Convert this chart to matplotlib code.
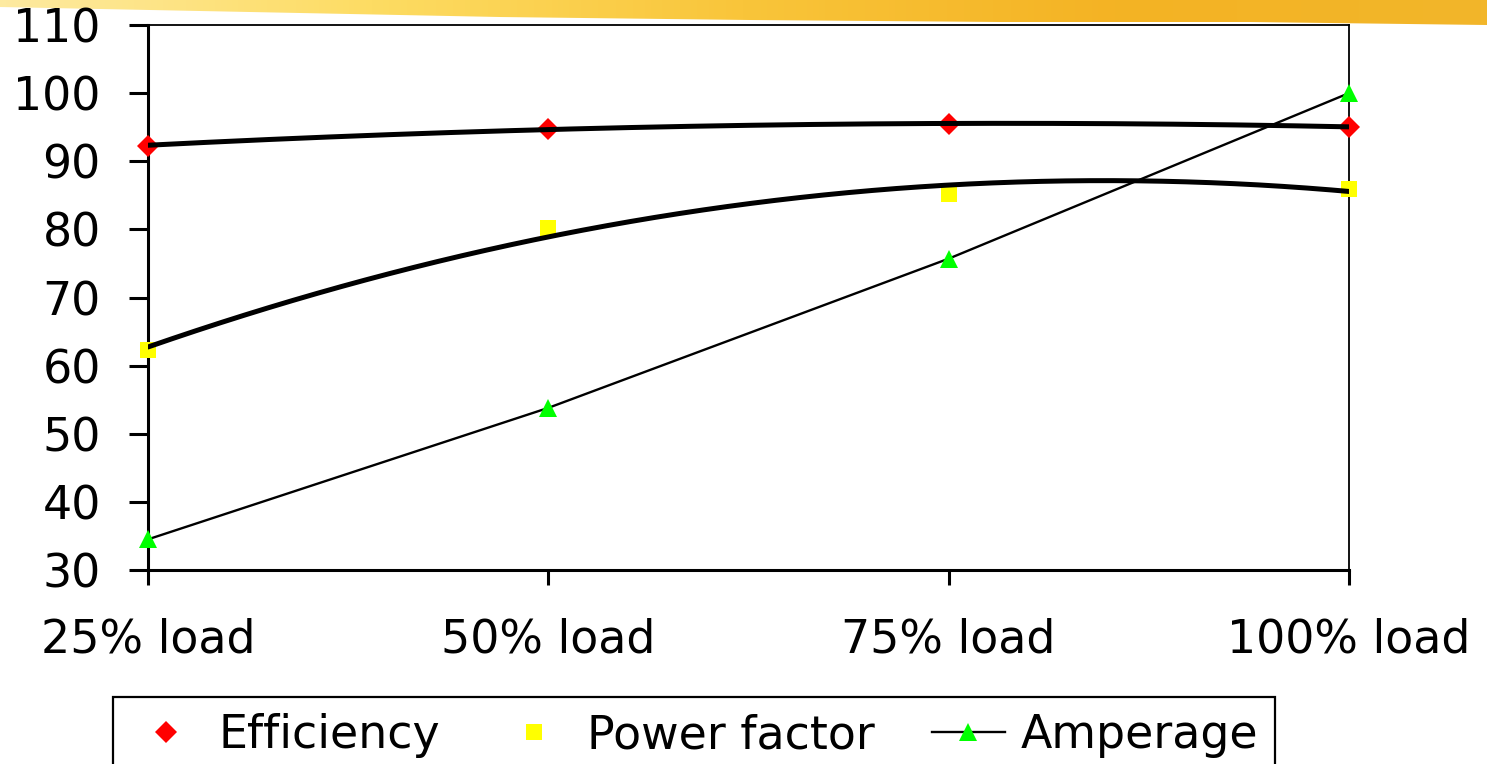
import numpy as np
import matplotlib.pyplot as plt
from matplotlib.patches import Polygon

# Motor performance at partial load
loads = ["25% load", "50% load", "75% load", "100% load"]
efficiency = [92.3, 94.8, 95.4, 95.1]
power_factor = [62.3, 80.2, 85.2, 86.0]
amperage = [34.5, 53.8, 75.7, 100.0]
yticks = [30, 40, 50, 60, 70, 80, 90, 100, 110]

plt.rcParams['font.family'] = ['DejaVu Sans']

fig = plt.figure(figsize=(14.87, 7.64), dpi=100)

# yellow brush band across the top of the slide
band = fig.add_axes([0, 0, 1, 1], zorder=0)
band.set_xlim(0, 1487)
band.set_ylim(764, 0)
band.axis('off')
grad = np.linspace(0, 1, 256).reshape(1, -1)
cmap = plt.matplotlib.colors.LinearSegmentedColormap.from_list(
    'brush', ['#fdeaa0', '#fddc63', '#f9c53a', '#f4b324', '#f2b62a'])
img = band.imshow(grad, cmap=cmap, extent=[0, 1487, 30, 0], aspect='auto')
edge = Polygon([(0, 0), (1487, 0), (1487, 25), (1250, 22), (1000, 22),
                (750, 20), (500, 17), (250, 12), (0, 7)], closed=True,
               transform=band.transData)
img.set_clip_path(edge)

ax = fig.add_axes([148 / 1487, 1 - 570 / 764, 1201 / 1487, 545 / 764], zorder=1)
ax.patch.set_alpha(0)
x = np.arange(len(loads))

# second order trend lines through efficiency and power factor
xs = np.linspace(0, 3, 200)
eff_fit = np.polyval(np.polyfit(x, efficiency, 2), xs)
pf_fit = np.polyval(np.polyfit(x, power_factor, 2), xs)

ax.plot(x, efficiency, linestyle='none', marker='D', markersize=11.5,
        color='#ff0000', markeredgewidth=0, label='Efficiency', zorder=3, clip_on=False)
ax.plot(x, power_factor, linestyle='none', marker='s', markersize=11.5,
        color='#ffff00', markeredgewidth=0, label='Power factor', zorder=3, clip_on=False)
ax.plot(x, amperage, color='black', linewidth=1.7, marker='^', markersize=13.5,
        markerfacecolor='#00ff00', markeredgewidth=0, label='Amperage', zorder=4,
        clip_on=False)
ax.plot(xs, eff_fit, color='black', linewidth=3.6, solid_capstyle='round', zorder=5)
ax.plot(xs, pf_fit, color='black', linewidth=3.6, solid_capstyle='round', zorder=5)

ax.set_xlim(0, 3)
ax.set_ylim(30, 110)
ax.set_xticks(x)
ax.set_xticklabels(loads, fontsize=33)
ax.set_yticks(yticks)
ax.set_yticklabels([str(v) for v in yticks], fontsize=33)

for side in ['top', 'right']:
    ax.spines[side].set_linewidth(1.3)
for side in ['left', 'bottom']:
    ax.spines[side].set_linewidth(2.2)
ax.tick_params(axis='y', direction='out', length=14, width=2.2, pad=20)
ax.tick_params(axis='x', direction='out', length=11, width=2.2, pad=23)

leg = fig.legend(loc='upper left', bbox_to_anchor=(113 / 1487, 1 - 697 / 764),
                 ncol=3, fontsize=33, frameon=True, fancybox=False, framealpha=1,
                 borderaxespad=0, borderpad=0.35, handlelength=1.6,
                 handletextpad=0.35, columnspacing=1.25)
leg.get_frame().set_edgecolor('black')
leg.get_frame().set_linewidth(1.6)

fig.savefig('out.png', dpi=100)
